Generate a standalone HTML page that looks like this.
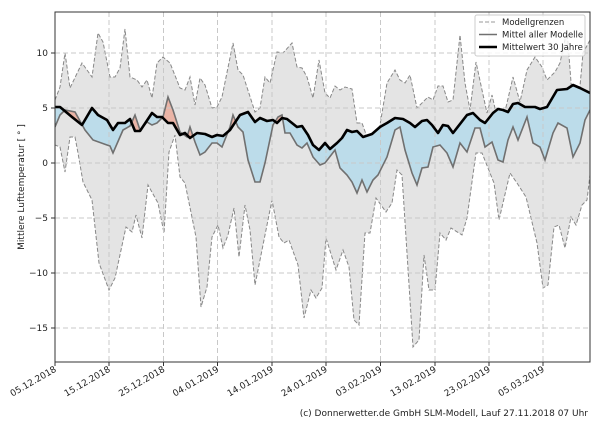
<!DOCTYPE html>
<html><head><meta charset="utf-8"><style>
body{margin:0;background:#fff;width:600px;height:420px;overflow:hidden}
svg text{font-family:"DejaVu Sans","Liberation Sans",sans-serif;fill:#222}
</style></head><body>
<svg width="600" height="420" xmlns="http://www.w3.org/2000/svg" xmlns:xlink="http://www.w3.org/1999/xlink">
<defs>
<clipPath id="plot"><rect x="55" y="12" width="535" height="350"/></clipPath>
<clipPath id="above"><polygon points="55,0 55,107 60,107 72,117 82,125 92,108 98,115 107,120 113,130 118,123 125,123 130,119 135,131 140,131 152,113 157,117 162,117 168,123 173,123 180,135 185,133 190,138 197,133 205,134 212,137 217,135 223,136 230,130 240,115 248,112 255,122 260,118 267,121 273,120 277,123 282,118 287,119 297,127 302,126 308,135 313,145 319,150 325,143 330,149 337,143 342,138 347,130 352,132 357,131 363,137 372,134 380,127 387,123 395,118 403,119 410,123 415,127 422,121 427,120 432,125 438,133 443,125 448,126 453,133 467,115 473,113 480,120 485,123 493,113 498,109 503,110 508,112 513,104 518,103 525,107 530,107 535,107 540,109 547,107 557,90 567,89 573,85 580,88 590,93 600,93 600,0"/></clipPath>
<clipPath id="below"><polygon points="55,420 55,107 60,107 72,117 82,125 92,108 98,115 107,120 113,130 118,123 125,123 130,119 135,131 140,131 152,113 157,117 162,117 168,123 173,123 180,135 185,133 190,138 197,133 205,134 212,137 217,135 223,136 230,130 240,115 248,112 255,122 260,118 267,121 273,120 277,123 282,118 287,119 297,127 302,126 308,135 313,145 319,150 325,143 330,149 337,143 342,138 347,130 352,132 357,131 363,137 372,134 380,127 387,123 395,118 403,119 410,123 415,127 422,121 427,120 432,125 438,133 443,125 448,126 453,133 467,115 473,113 480,120 485,123 493,113 498,109 503,110 508,112 513,104 518,103 525,107 530,107 535,107 540,109 547,107 557,90 567,89 573,85 580,88 590,93 600,93 600,420"/></clipPath>
<polygon id="between" points="55,127 60,115 65,110 75,112 85,130 93,140 107,145 110,146 113,153 123,130 130,126 135,115 140,130 147,122 152,125 157,123 163,117 168,97 173,110 180,132 187,137 190,127 195,142 200,155 205,152 212,143 217,143 222,147 230,127 233,115 238,127 243,132 248,160 255,182 260,182 265,163 273,125 278,117 282,115 285,133 290,133 297,145 302,148 307,143 313,157 320,165 325,163 335,150 340,168 347,175 352,182 357,193 362,180 367,192 373,180 378,175 387,157 395,130 400,127 405,150 412,173 417,185 422,168 428,167 433,147 440,145 447,153 453,167 460,143 467,152 475,128 480,128 485,147 492,142 498,160 503,162 508,140 513,127 518,140 527,117 533,143 540,147 545,160 553,133 558,123 567,128 573,157 580,143 585,120 590,110 590,93 580,88 573,85 567,89 557,90 547,107 540,109 535,107 525,107 518,103 513,104 508,112 503,110 498,109 493,113 485,123 480,120 473,113 467,115 453,133 448,126 443,125 438,133 432,125 427,120 422,121 415,127 410,123 403,119 395,118 387,123 380,127 372,134 363,137 357,131 352,132 347,130 342,138 337,143 330,149 325,143 319,150 313,145 308,135 302,126 297,127 287,119 282,118 277,123 273,120 267,121 260,118 255,122 248,112 240,115 230,130 223,136 217,135 212,137 205,134 197,133 190,138 185,133 180,135 173,123 168,123 162,117 157,117 152,113 140,131 135,131 130,119 125,123 118,123 113,130 107,120 98,115 92,108 82,125 72,117 60,107 55,107"/>
</defs>
<g clip-path="url(#plot)">
<polygon fill="#e4e4e4" stroke="#888" stroke-width="1" stroke-dasharray="4,2" points="55,100 60,87 65,53 70,88 82,63 92,77 98,33 103,42 110,77 115,77 120,68 125,29 130,77 137,80 142,87 147,80 152,98 157,63 163,57 170,63 180,88 185,90 190,77 195,105 200,78 205,85 212,108 217,107 222,97 233,43 238,70 243,75 255,112 260,108 265,77 270,83 277,52 283,53 292,43 297,67 302,68 307,77 313,98 319,60 325,93 330,98 335,86 340,90 345,87 352,89 357,123 362,123 367,137 373,145 378,137 387,83 395,70 400,80 405,83 410,75 417,108 423,102 428,97 433,100 438,86 443,86 448,102 453,100 460,35 465,83 470,110 476,62 482,90 487,113 492,95 497,117 502,123 507,103 513,77 520,102 527,70 535,57 542,67 547,80 555,72 560,63 567,30 573,108 578,108 583,53 590,40 590,175 587,200 582,205 576,225 571,217 565,248 559,225 554,227 548,285 543,288 537,243 526,197 517,183 510,173 499,220 494,183 482,153 476,153 467,218 462,235 451,228 446,240 440,233 435,290 429,290 424,255 419,340 413,347 402,175 397,170 392,203 386,212 376,198 370,233 365,233 359,325 354,320 349,267 343,250 336,270 326,238 322,288 316,298 311,290 304,318 298,265 289,240 284,243 279,237 272,200 263,245 255,285 250,230 245,205 239,257 234,208 228,235 223,248 218,225 212,237 207,287 201,307 196,237 185,183 180,177 175,135 169,152 164,233 158,203 148,185 142,238 136,215 132,232 126,227 115,278 109,290 99,263 92,200 83,182 78,153 75,137 70,137 65,172 60,147 55,145"/>
<g clip-path="url(#above)"><use href="#between" xlink:href="#between" fill="#eab4a6"/></g>
<g clip-path="url(#below)"><use href="#between" xlink:href="#between" fill="#bcdcea"/></g>
<g stroke="#c8c8c8" stroke-width="1" stroke-dasharray="5,3">
<line x1="55" y1="53" x2="590" y2="53"/><line x1="55" y1="108" x2="590" y2="108"/><line x1="55" y1="163" x2="590" y2="163"/><line x1="55" y1="218" x2="590" y2="218"/><line x1="55" y1="273" x2="590" y2="273"/><line x1="55" y1="328" x2="590" y2="328"/>
<line x1="109" y1="12" x2="109" y2="362"/><line x1="163.5" y1="12" x2="163.5" y2="362"/><line x1="217.5" y1="12" x2="217.5" y2="362"/><line x1="272" y1="12" x2="272" y2="362"/><line x1="326" y1="12" x2="326" y2="362"/><line x1="380.5" y1="12" x2="380.5" y2="362"/><line x1="435" y1="12" x2="435" y2="362"/><line x1="489" y1="12" x2="489" y2="362"/><line x1="543" y1="12" x2="543" y2="362"/>
</g>
<polyline fill="none" stroke="#707070" stroke-width="1.6" points="55,127 60,115 65,110 75,112 85,130 93,140 107,145 110,146 113,153 123,130 130,126 135,115 140,130 147,122 152,125 157,123 163,117 168,97 173,110 180,132 187,137 190,127 195,142 200,155 205,152 212,143 217,143 222,147 230,127 233,115 238,127 243,132 248,160 255,182 260,182 265,163 273,125 278,117 282,115 285,133 290,133 297,145 302,148 307,143 313,157 320,165 325,163 335,150 340,168 347,175 352,182 357,193 362,180 367,192 373,180 378,175 387,157 395,130 400,127 405,150 412,173 417,185 422,168 428,167 433,147 440,145 447,153 453,167 460,143 467,152 475,128 480,128 485,147 492,142 498,160 503,162 508,140 513,127 518,140 527,117 533,143 540,147 545,160 553,133 558,123 567,128 573,157 580,143 585,120 590,110"/>
<polyline fill="none" stroke="#000" stroke-width="2.6" stroke-linejoin="round" points="55,107 60,107 72,117 82,125 92,108 98,115 107,120 113,130 118,123 125,123 130,119 135,131 140,131 152,113 157,117 162,117 168,123 173,123 180,135 185,133 190,138 197,133 205,134 212,137 217,135 223,136 230,130 240,115 248,112 255,122 260,118 267,121 273,120 277,123 282,118 287,119 297,127 302,126 308,135 313,145 319,150 325,143 330,149 337,143 342,138 347,130 352,132 357,131 363,137 372,134 380,127 387,123 395,118 403,119 410,123 415,127 422,121 427,120 432,125 438,133 443,125 448,126 453,133 467,115 473,113 480,120 485,123 493,113 498,109 503,110 508,112 513,104 518,103 525,107 530,107 535,107 540,109 547,107 557,90 567,89 573,85 580,88 590,93"/>
</g>
<rect x="55" y="12" width="535" height="350" fill="none" stroke="#333" stroke-width="1"/>
<g stroke="#333"><line x1="51" y1="53" x2="55" y2="53"/><line x1="51" y1="108" x2="55" y2="108"/><line x1="51" y1="163" x2="55" y2="163"/><line x1="51" y1="218" x2="55" y2="218"/><line x1="51" y1="273" x2="55" y2="273"/><line x1="51" y1="328" x2="55" y2="328"/>
<line x1="55" y1="362" x2="55" y2="366"/><line x1="109" y1="362" x2="109" y2="366"/><line x1="163.5" y1="362" x2="163.5" y2="366"/><line x1="217.5" y1="362" x2="217.5" y2="366"/><line x1="272" y1="362" x2="272" y2="366"/><line x1="326" y1="362" x2="326" y2="366"/><line x1="380.5" y1="362" x2="380.5" y2="366"/><line x1="435" y1="362" x2="435" y2="366"/><line x1="489" y1="362" x2="489" y2="366"/><line x1="543" y1="362" x2="543" y2="366"/></g>
<g font-size="9" text-anchor="end">
<text x="48" y="56">10</text><text x="48" y="111">5</text><text x="48" y="166">0</text><text x="48" y="221">−5</text><text x="48" y="276">−10</text><text x="48" y="331">−15</text>
</g>
<g font-size="9" text-anchor="end">
<text transform="translate(57,371) rotate(-30)">05.12.2018</text>
<text transform="translate(111,371) rotate(-30)">15.12.2018</text>
<text transform="translate(165.5,371) rotate(-30)">25.12.2018</text>
<text transform="translate(219.5,371) rotate(-30)">04.01.2019</text>
<text transform="translate(274,371) rotate(-30)">14.01.2019</text>
<text transform="translate(328,371) rotate(-30)">24.01.2019</text>
<text transform="translate(382.5,371) rotate(-30)">03.02.2019</text>
<text transform="translate(437,371) rotate(-30)">13.02.2019</text>
<text transform="translate(491,371) rotate(-30)">23.02.2019</text>
<text transform="translate(545,371) rotate(-30)">05.03.2019</text>
</g>
<text font-size="9" text-anchor="middle" transform="translate(24,187) rotate(-90)">Mittlere Lufttemperatur [ ° ]</text>
<rect x="475" y="15" width="110" height="41" rx="2" fill="#fff" fill-opacity="0.8" stroke="#ccc"/>
<line x1="479" y1="22" x2="497" y2="22" stroke="#999" stroke-dasharray="4,2"/>
<line x1="479" y1="34.5" x2="497" y2="34.5" stroke="#707070" stroke-width="1.6"/>
<line x1="479" y1="47" x2="497" y2="47" stroke="#000" stroke-width="2.6"/>
<g font-size="8.5"><text x="502" y="25">Modellgrenzen</text><text x="502" y="37.5">Mittel aller Modelle</text><text x="502" y="50">Mittelwert 30 Jahre</text></g>
<text x="588" y="416" font-size="9" text-anchor="end">(c) Donnerwetter.de GmbH SLM-Modell, Lauf 27.11.2018 07 Uhr</text>
</svg>
</body></html>
